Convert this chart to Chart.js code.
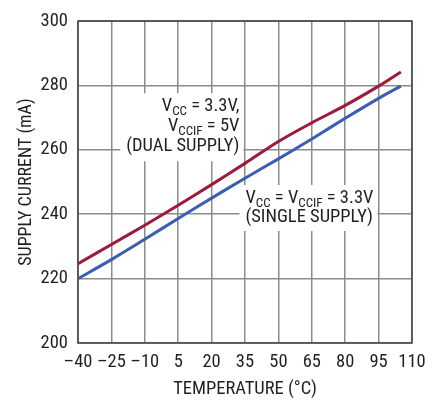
<!DOCTYPE html>
<html>
<head>
<meta charset="utf-8">
<script src="https://cdn.jsdelivr.net/npm/chart.js@4.4.0/dist/chart.umd.min.js"></script>
<style>
  html, body { margin: 0; padding: 0; background: #fff; }
  #wrap { width: 443px; height: 400px; }
</style>
</head>
<body>
<div id="wrap"><canvas id="chart" width="443" height="400"></canvas></div>
<script>
// dati
const temperatures = [-40, -25, -10, 5, 20, 35, 50, 65, 80, 95, 105];
const dualSupply = [224.6, 230.6, 236.6, 242.8, 249.2, 255.8, 262.6, 268.4, 273.8, 279.8, 284.2];
const singleSupply = [220.0, 225.9, 232.2, 238.7, 245.0, 251.2, 257.2, 263.4, 269.8, 276.0, 279.8];
const xTicks = [-40, -25, -10, 5, 20, 35, 50, 65, 80, 95, 110];
const yTicks = [200, 220, 240, 260, 280, 300];

const FONT = "'Roboto Condensed', 'DejaVu Sans Condensed', sans-serif";
const SIZE = 18.5;
const SUB = 13;
const TEXT = '#231f20';
const GRID = '#8c8c8c';

function toPoints(values) {
    return temperatures.map((t, i) => ({ x: t, y: values[i] }));
}

// testo con pedici: parts = [[testo, isSub], ...]
function richWidth(ctx, parts) {
    let w = 0;
    for (const [t, sub] of parts) {
        ctx.font = (sub ? SUB : SIZE) + 'px ' + FONT;
        w += ctx.measureText(t).width;
    }
    return w;
}
function drawRich(ctx, parts, x, y, align) {
    let cx = align === 'right' ? x - richWidth(ctx, parts) : x;
    ctx.textAlign = 'left';
    ctx.textBaseline = 'alphabetic';
    ctx.fillStyle = TEXT;
    for (const [t, sub] of parts) {
        ctx.font = (sub ? SUB : SIZE) + 'px ' + FONT;
        ctx.fillText(t, cx, sub ? y + 4 : y);
        cx += ctx.measureText(t).width;
    }
}

const notes = [
    { x: 32.5, y: 272, align: 'right', gap: 20, lines: [
        [['V', false], ['CC', true], [' = 3.3V,', false]],
        [['V', false], ['CCIF', true], [' = 5V', false]],
        [['(DUAL SUPPLY)', false]]
    ]},
    { x: 35.2, y: 243.5, align: 'left', gap: 19, lines: [
        [['V', false], ['CC', true], [' = V', false], ['CCIF', true], [' = 3.3V', false]],
        [['(SINGLE SUPPLY)', false]]
    ]}
];

const notesPlugin = {
    id: 'notes',
    beforeDatasetsDraw(chart) {
        const ctx = chart.ctx;
        const xs = chart.scales.x, ys = chart.scales.y;
        ctx.save();
        for (const n of notes) {
            const px = xs.getPixelForValue(n.x);
            const py = ys.getPixelForValue(n.y);
            const w = Math.max(...n.lines.map(l => richWidth(ctx, l)));
            const left = n.align === 'right' ? px - w : px;
            const h = n.gap * n.lines.length;
            ctx.fillStyle = '#fff';
            ctx.fillRect(left - 6, py - 18, w + 10, h + 8);
            n.lines.forEach((l, i) => drawRich(ctx, l, px, py + i * n.gap, n.align));
        }
        // cornice
        const a = chart.chartArea;
        ctx.strokeStyle = '#444';
        ctx.lineWidth = 1.5;
        ctx.strokeRect(a.left, a.top, a.right - a.left, a.bottom - a.top);
        ctx.restore();
    }
};

new Chart(document.getElementById('chart'), {
    type: 'line',
    data: {
        datasets: [
            { label: 'Dual supply', data: toPoints(dualSupply), borderColor: '#9c1a3a', borderWidth: 3, pointRadius: 0, tension: 0.3, fill: false },
            { label: 'Single supply', data: toPoints(singleSupply), borderColor: '#3a5eb0', borderWidth: 3, pointRadius: 0, tension: 0.3, fill: false }
        ]
    },
    options: {
        responsive: false,
        animation: false,
        layout: { padding: { left: 0, right: 31, top: 9, bottom: 0 } },
        plugins: { legend: { display: false }, tooltip: { enabled: false } },
        scales: {
            x: {
                type: 'linear', min: -40, max: 110,
                afterBuildTicks: s => { s.ticks = xTicks.map(v => ({ value: v })); },
                afterFit: s => { s.height = 57; },
                grid: { color: GRID, lineWidth: 1.5, drawTicks: false },
                border: { display: false },
                ticks: { color: TEXT, padding: 8, maxRotation: 0, autoSkip: false,
                    font: { family: FONT, size: SIZE },
                    callback: v => (v < 0 ? '\u2013' + Math.abs(v) : '' + v) },
                title: { display: true, text: 'TEMPERATURE (\u00B0C)', color: TEXT,
                    font: { family: FONT, size: SIZE }, padding: { top: 7, bottom: 0 } }
            },
            y: {
                min: 200, max: 300,
                afterBuildTicks: s => { s.ticks = yTicks.map(v => ({ value: v })); },
                afterFit: s => { s.width = 78; },
                grid: { color: GRID, lineWidth: 1.5, drawTicks: false },
                border: { display: false },
                ticks: { color: TEXT, padding: 10, font: { family: FONT, size: SIZE } },
                title: { display: true, text: 'SUPPLY CURRENT (mA)', color: TEXT,
                    font: { family: FONT, size: 18 }, padding: { top: 16, bottom: 0 } }
            }
        }
    },
    plugins: [notesPlugin]
});
</script>
</body>
</html>
